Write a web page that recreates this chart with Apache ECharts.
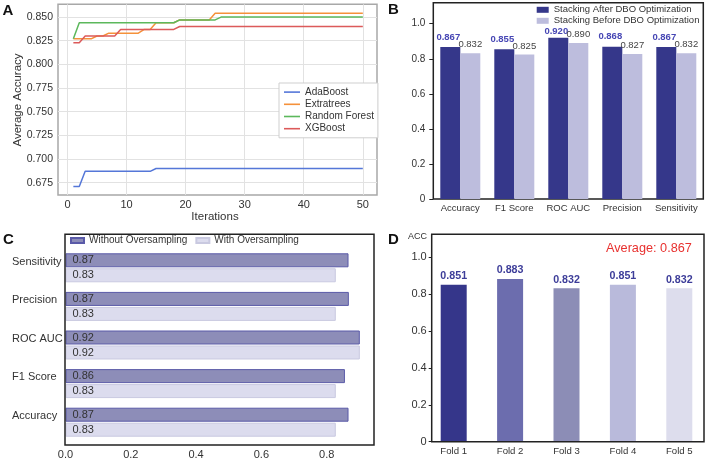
<!DOCTYPE html>
<html><head><meta charset="utf-8">
<script src="https://cdn.jsdelivr.net/npm/echarts@6/dist/echarts.min.js"></script>
<style>html,body{margin:0;padding:0;background:#fff}#c{width:708px;height:461px}</style>
</head><body><div id="c"></div>
<script>
// ---------- Panel A data ----------
const aIterations = [1,2,3,4,5,6,7,8,9,10,11,12,13,14,15,16,17,18,19,20,21,22,23,24,25,26,27,28,29,30,31,32,33,34,35,36,37,38,39,40,41,42,43,44,45,46,47,48,49,50];
const aAdaBoost = [0.671,0.671,0.687,0.687,0.687,0.687,0.687,0.687,0.687,0.687,0.687,0.687,0.687,0.687,0.690,0.690,0.690,0.690,0.690,0.690,0.690,0.690,0.690,0.690,0.690,0.690,0.690,0.690,0.690,0.690,0.690,0.690,0.690,0.690,0.690,0.690,0.690,0.690,0.690,0.690,0.690,0.690,0.690,0.690,0.690,0.690,0.690,0.690,0.690,0.690];
const aExtratrees = [0.827,0.827,0.827,0.827,0.830,0.830,0.833,0.833,0.833,0.833,0.833,0.833,0.837,0.837,0.844,0.844,0.844,0.844,0.847,0.847,0.847,0.847,0.847,0.847,0.854,0.854,0.854,0.854,0.854,0.854,0.854,0.854,0.854,0.854,0.854,0.854,0.854,0.854,0.854,0.854,0.854,0.854,0.854,0.854,0.854,0.854,0.854,0.854,0.854,0.854];
const aRandomForest = [0.827,0.844,0.844,0.844,0.844,0.844,0.844,0.844,0.844,0.844,0.844,0.844,0.844,0.844,0.844,0.844,0.844,0.844,0.847,0.847,0.847,0.847,0.847,0.847,0.847,0.850,0.850,0.850,0.850,0.850,0.850,0.850,0.850,0.850,0.850,0.850,0.850,0.850,0.850,0.850,0.850,0.850,0.850,0.850,0.850,0.850,0.850,0.850,0.850,0.850];
const aXGBoost = [0.823,0.823,0.830,0.830,0.830,0.830,0.830,0.830,0.837,0.837,0.837,0.837,0.837,0.837,0.837,0.837,0.837,0.837,0.840,0.840,0.840,0.840,0.840,0.840,0.840,0.840,0.840,0.840,0.840,0.840,0.840,0.840,0.840,0.840,0.840,0.840,0.840,0.840,0.840,0.840,0.840,0.840,0.840,0.840,0.840,0.840,0.840,0.840,0.840,0.840];
const aXTicks = [0,10,20,30,40,50];
const aYTicks = [0.675,0.700,0.725,0.750,0.775,0.800,0.825,0.850];

// ---------- Panel B data ----------
const bCategories = ['Accuracy','F1 Score','ROC AUC','Precision','Sensitivity'];
const bAfter = [0.867,0.855,0.920,0.868,0.867];
const bBefore = [0.832,0.825,0.890,0.827,0.832];
const bYTicks = [0,0.2,0.4,0.6,0.8,1.0];

// ---------- Panel C data ----------
const cCategories = ['Accuracy','F1 Score','ROC AUC','Precision','Sensitivity'];
const cWithout = [0.867,0.856,0.920,0.868,0.867];
const cWith = [0.828,0.828,0.918,0.828,0.828];
const cXTicks = [0,0.2,0.4,0.6,0.8];

// ---------- Panel D data ----------
const dFolds = ['Fold 1','Fold 2','Fold 3','Fold 4','Fold 5'];
const dAcc = [0.851,0.883,0.832,0.851,0.832];
const dAverageText = 'Average: 0.867';
const dYTicks = [0,0.2,0.4,0.6,0.8,1.0];

// ---------- styles ----------
const FONT = '"Liberation Sans", Arial, sans-serif';
const aColors = ['#5577d8','#f5913a','#5cb85c','#dc5a5a'];
const dColors = ['#35368a','#6c6dae','#8c8db6','#b9badb','#dddded'];
const txt = '#333';

const chart = echarts.init(document.getElementById('c'), null, {renderer:'canvas'});

function lineSeries(name, arr, color){
  return {
    name, type:'line', xAxisIndex:0, yAxisIndex:0,
    data: aIterations.map((it,i)=>[it, arr[i]]),
    showSymbol:false, symbol:'none', animation:false,
    lineStyle:{width:1.5, color}, itemStyle:{color}
  };
}
const oneDec = v => (v===0 ? '0' : v.toFixed(1));

const option = {
  animation:false,
  backgroundColor:'#fff',
  textStyle:{fontFamily:FONT},
  grid:[
    {left:58, top:4.3, width:319, height:190.7, show:true, borderColor:'#a8a8a8', borderWidth:1.5, backgroundColor:'transparent'},
    {left:433.3, top:2.7, width:270, height:196.3, show:true, borderColor:'#222', borderWidth:1.5, backgroundColor:'transparent'},
    {left:65.5, top:248.5, width:293.8, height:193},
    {left:425.5, top:234.3, width:282, height:207.4},
    {left:431.7, top:234.3, width:272.3, height:207.4}
  ],
  legend:[
    {data:['AdaBoost','Extratrees','Random Forest','XGBoost'], orient:'vertical', left:279, top:83,
     padding:[3,4,3,5], itemGap:0, itemWidth:16, itemHeight:1.6, icon:'rect',
     backgroundColor:'#fff', borderColor:'#cfcfcf', borderWidth:1,
     textStyle:{fontSize:10, lineHeight:12.2, color:txt, fontFamily:FONT}},
    {data:['Stacking After DBO Optimization','Stacking Before DBO Optimization'], orient:'vertical', left:536.7, top:4.3,
     padding:0, itemGap:0, itemWidth:12, itemHeight:6, icon:'rect',
     textStyle:{fontSize:9.5, lineHeight:11, color:txt, fontFamily:FONT}},
    {data:['Without Oversampling','With Oversampling'], orient:'horizontal', left:70, top:235,
     padding:0, itemGap:8, itemWidth:13, itemHeight:5, icon:'rect',
     textStyle:{fontSize:10, lineHeight:11, color:txt, fontFamily:FONT}}
  ],
  xAxis:[
    {gridIndex:0, type:'value', min:-1.6, max:52.4,
     axisLine:{show:false}, axisTick:{show:false, customValues:aXTicks},
     axisLabel:{customValues:aXTicks, fontSize:11, color:txt, margin:4, fontFamily:FONT},
     splitLine:{show:true, lineStyle:{color:'#e2e2e2', width:1}}},
    {gridIndex:1, type:'category', data:bCategories,
     axisLine:{show:false}, axisTick:{show:false},
     axisLabel:{interval:0, hideOverlap:false, fontSize:9.5, color:txt, margin:4, fontFamily:FONT}, splitLine:{show:false}},
    {gridIndex:2, type:'value', min:0, max:0.9,
     axisLine:{show:false}, axisTick:{show:false, customValues:cXTicks},
     axisLabel:{customValues:cXTicks, formatter:v=>v.toFixed(1), fontSize:11, color:txt, margin:8, fontFamily:FONT},
     splitLine:{show:false}},
    {gridIndex:3, type:'category', data:dFolds,
     axisLine:{show:false}, axisTick:{show:false},
     axisLabel:{interval:0, fontSize:9.6, color:txt, margin:5, fontFamily:FONT}, splitLine:{show:false}},
    {gridIndex:4, type:'category', data:dFolds, show:false}
  ],
  yAxis:[
    {gridIndex:0, type:'value', min:0.662, max:0.8635,
     axisLine:{show:false}, axisTick:{show:false, customValues:aYTicks},
     axisLabel:{customValues:aYTicks, formatter:v=>v.toFixed(3), fontSize:10.5, color:txt, margin:5, fontFamily:FONT},
     splitLine:{show:true, lineStyle:{color:'#e2e2e2', width:1}}},
    {gridIndex:1, type:'value', min:0, max:1.12,
     axisLine:{show:false}, axisTick:{show:true, inside:false, length:4, customValues:bYTicks, lineStyle:{color:'#222', width:1}},
     axisLabel:{customValues:bYTicks, formatter:oneDec, fontSize:10, color:txt, margin:8, fontFamily:FONT},
     splitLine:{show:false}},
    {gridIndex:2, type:'category', data:cCategories,
     axisLine:{show:false}, axisTick:{show:false},
     axisLabel:{interval:0, align:'left', verticalAlign:'bottom', lineHeight:12.4, margin:53.5, fontSize:11, color:txt, fontFamily:FONT},
     splitLine:{show:false}},
    {gridIndex:3, type:'value', min:0, max:1.125, show:false},
    {gridIndex:4, type:'value', min:0, max:1.125,
     axisLine:{show:false}, axisTick:{show:true, inside:false, length:3, customValues:dYTicks, lineStyle:{color:'#222', width:1}},
     axisLabel:{customValues:dYTicks, formatter:oneDec, fontSize:11, color:txt, margin:5, fontFamily:FONT},
     splitLine:{show:false}}
  ],
  series:[
    lineSeries('AdaBoost', aAdaBoost, aColors[0]),
    lineSeries('Extratrees', aExtratrees, aColors[1]),
    lineSeries('Random Forest', aRandomForest, aColors[2]),
    lineSeries('XGBoost', aXGBoost, aColors[3]),
    {name:'Stacking After DBO Optimization', type:'bar', xAxisIndex:1, yAxisIndex:1,
     data:bAfter.map((v,i)=>(bCategories[i]==='ROC AUC' ? {value:v, label:{distance:1}} : v)),
     barWidth:20, barGap:'0%', itemStyle:{color:'#35378a'},
     label:{show:true, position:'top', distance:5, offset:[-2,0], formatter:p=>p.value.toFixed(3),
            color:'#4646b4', fontWeight:'bold', fontSize:9.5, fontFamily:FONT}},
    {name:'Stacking Before DBO Optimization', type:'bar', xAxisIndex:1, yAxisIndex:1, data:bBefore,
     barWidth:20, barGap:'0%', itemStyle:{color:'#bdbddd'},
     label:{show:true, position:'top', distance:3.5, formatter:p=>p.value.toFixed(3),
            color:'#444', fontSize:9.5, fontFamily:FONT}},
    {name:'Without Oversampling', type:'bar', xAxisIndex:2, yAxisIndex:2, data:cWithout,
     barWidth:14, barGap:'7%', clip:true, itemStyle:{color:'#8d8db8', borderColor:'#5a5aa8', borderWidth:1},
     label:{show:true, position:'insideLeft', distance:7, formatter:p=>p.value.toFixed(2),
            color:'#333', fontSize:11, fontFamily:FONT}},
    {name:'With Oversampling', type:'bar', xAxisIndex:2, yAxisIndex:2, data:cWith,
     barWidth:14, barGap:'7%', clip:true, itemStyle:{color:'#dcdcee', borderColor:'#c9c9e0', borderWidth:1},
     label:{show:true, position:'insideLeft', distance:7, formatter:p=>p.value.toFixed(2),
            color:'#333', fontSize:11, fontFamily:FONT}},
    {name:'ACC', type:'bar', xAxisIndex:3, yAxisIndex:3,
     data:dAcc.map((v,i)=>({value:v, itemStyle:{color:dColors[i]}})),
     barWidth:26,
     label:{show:true, position:'top', distance:3, formatter:p=>p.value.toFixed(3),
            color:'#3d3d99', fontWeight:'bold', fontSize:10.7, fontFamily:FONT}}
  ],
  graphic:[
    {type:'rect', shape:{x:65, y:234.3, width:309, height:210.7}, style:{fill:'transparent', stroke:'#222', lineWidth:1.5}, z:10},
    {type:'rect', shape:{x:431.7, y:234.3, width:272.3, height:207.4}, style:{fill:'transparent', stroke:'#222', lineWidth:1.5}, z:10},
    {type:'text', x:2.5, y:11.3, style:{text:'A', font:'bold 15px '+FONT, fill:'#111', textVerticalAlign:'middle'}},
    {type:'text', x:388, y:10.3, style:{text:'B', font:'bold 15px '+FONT, fill:'#111', textVerticalAlign:'middle'}},
    {type:'text', x:3, y:240.3, style:{text:'C', font:'bold 15px '+FONT, fill:'#111', textVerticalAlign:'middle'}},
    {type:'text', x:388, y:240.3, style:{text:'D', font:'bold 15px '+FONT, fill:'#111', textVerticalAlign:'middle'}},
    {type:'text', x:215, y:217, style:{text:'Iterations', font:'11.5px '+FONT, fill:txt, textAlign:'center', textVerticalAlign:'middle'}},
    {type:'text', x:18, y:100, rotation:Math.PI/2, style:{text:'Average Accuracy', font:'11.5px '+FONT, fill:txt, textAlign:'center', textVerticalAlign:'middle'}},
    {type:'text', x:427, y:236.7, style:{text:'ACC', font:'9px '+FONT, fill:txt, textAlign:'right', textVerticalAlign:'middle'}},
    {type:'text', x:606, y:248.3, style:{text:dAverageText, font:'12.7px '+FONT, fill:'#e8312f', textVerticalAlign:'middle'}}
  ]
};
chart.setOption(option);
</script>
</body></html>
